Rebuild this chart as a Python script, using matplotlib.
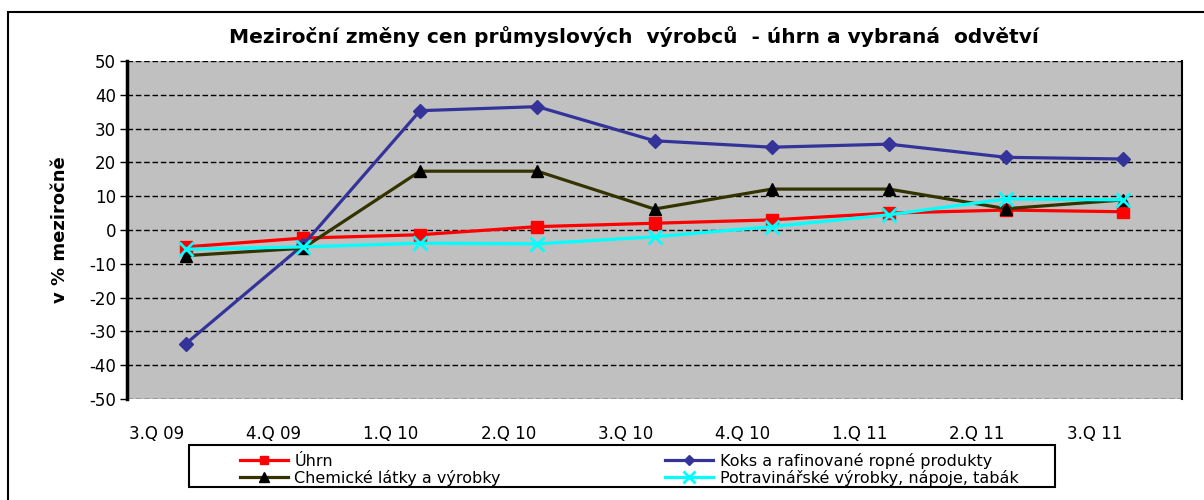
import numpy as np
import matplotlib
matplotlib.use("Agg")
import matplotlib.pyplot as plt
from matplotlib.patches import Rectangle
from matplotlib.transforms import ScaledTranslation

plt.rcParams["axes.unicode_minus"] = False

# ==========================================
# Data
# ==========================================
quarters = ["3.Q 09", "4.Q 09", "1.Q 10", "2.Q 10", "3.Q 10",
            "4.Q 10", "1.Q 11", "2.Q 11", "3.Q 11"]
uhrn = [-5.0, -2.4, -1.4, 1.0, 2.0, 3.0, 5.0, 5.9, 5.4]
koks = [-33.7, -4.5, 35.3, 36.5, 26.4, 24.5, 25.4, 21.5, 21.0]
chem = [-7.6, -5.4, 17.4, 17.4, 6.2, 12.1, 12.1, 6.3, 8.9]
potrav = [-5.7, -5.0, -3.9, -4.1, -2.0, 1.0, 4.5, 9.2, 8.9]

labels = ["Úhrn", "Koks a rafinované ropné produkty",
          "Chemické látky a výrobky", "Potravinářské výrobky, nápoje, tabák"]
title = "Meziroční změny cen průmyslových  výrobců  - úhrn a vybraná  odvětví"

# ==========================================
# Figure / axes
# ==========================================
fig = plt.figure(figsize=(12.04, 5.0), dpi=100)
ax = fig.add_axes([127 / 1204, 1 - 399 / 500, 1055 / 1204, 338 / 500])
ax.set_facecolor("#C0C0C0")

x = np.arange(len(quarters))
lw = 2.3
ax.plot(x, uhrn, color="#FF0000", lw=lw, marker="s", ms=8,
        mfc="#FF0000", mec="#FF0000", label=labels[0])
ax.plot(x, koks, color="#333399", lw=lw, marker="D", ms=7,
        mfc="#333399", mec="#333399", label=labels[1])
ax.plot(x, chem, color="#333300", lw=lw, marker="^", ms=9,
        mfc="black", mec="black", label=labels[2])
ax.plot(x, potrav, color="#00FFFF", lw=lw, marker="x", ms=10,
        mew=2, mec="#00FFFF", label=labels[3])

ax.set_xlim(-0.5, len(quarters) - 0.5)
ax.set_ylim(-50, 50)
ax.set_yticks(np.arange(-50, 51, 10))
ax.set_xticks(x)
ax.set_xticklabels(quarters, fontsize=12)
ax.tick_params(axis="x", length=0, pad=19)
ax.tick_params(axis="y", labelsize=12, length=5, width=1, pad=3)

# labels sit a quarter category left of the points, as in the original
offset = ScaledTranslation(-0.29, 0, fig.dpi_scale_trans)
for lab in ax.get_xticklabels():
    lab.set_transform(lab.get_transform() + offset)

for yv in np.arange(-50, 51, 10):
    ax.axhline(yv, color="black", lw=1, ls=(0, (4, 2)), zorder=1)

ax.spines["top"].set_visible(False)
ax.spines["bottom"].set_visible(False)
ax.spines["left"].set_linewidth(2.5)
ax.spines["right"].set_linewidth(1.5)

ax.set_ylabel("v % meziročně", fontsize=13, fontweight="bold", labelpad=14)
fig.text(634 / 1204, 1 - 37 / 500, title, ha="center", va="center",
         fontsize=14.5, fontweight="bold")

# ==========================================
# Legend + borders
# ==========================================
h, l = ax.get_legend_handles_labels()
order = [0, 2, 1, 3]
fig.legend([h[i] for i in order], [l[i] for i in order], ncol=2,
           loc="upper left", bbox_to_anchor=(232 / 1204, 1 - 445 / 500),
           frameon=False, borderpad=0, fontsize=11.5, handlelength=3.0,
           handletextpad=0.4, columnspacing=10.3, labelspacing=0.05,
           markerscale=0.8)

fig.patches.append(Rectangle((189 / 1204, 1 - 487 / 500), 866 / 1204, 42 / 500,
                             transform=fig.transFigure, fill=False,
                             lw=1.5, ec="black"))
fig.patches.append(Rectangle((8 / 1204, -0.1), 1.2, 0.976 + 0.1,
                             transform=fig.transFigure, fill=False,
                             lw=1.5, ec="black"))

fig.savefig("out.png", dpi=100)
